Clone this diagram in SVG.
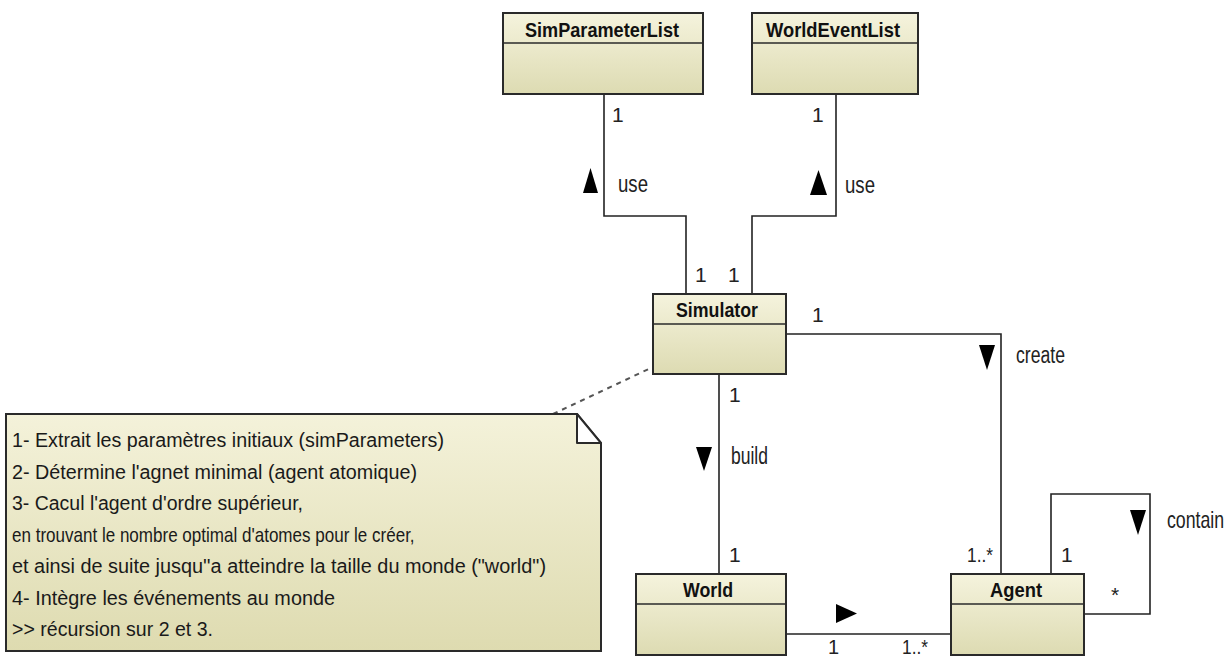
<svg xmlns="http://www.w3.org/2000/svg" width="1231" height="659" viewBox="0 0 1231 659">
  <defs>
    <linearGradient id="classFill" x1="0" y1="0" x2="0" y2="1">
      <stop offset="0" stop-color="#f5f3dd"/>
      <stop offset="1" stop-color="#dddbb2"/>
    </linearGradient>
    <linearGradient id="noteFill" x1="0" y1="0" x2="0" y2="1">
      <stop offset="0" stop-color="#f4f2da"/>
      <stop offset="1" stop-color="#dedbb0"/>
    </linearGradient>
  </defs>
  <style>
    .box { fill: url(#classFill); stroke: #2a2a2a; stroke-width: 2; }
    .div { stroke: #2a2a2a; stroke-width: 1.6; }
    .title { font-family: "Liberation Sans", Arial, sans-serif; font-weight: bold; font-size: 21px; fill: #111; text-anchor: middle; }
    .lbl { font-family: "Liberation Sans", Arial, sans-serif; font-size: 21px; fill: #222; }
    .word { font-family: "Liberation Sans", Arial, sans-serif; font-size: 23px; fill: #222; }
    .note { font-family: "Liberation Sans", Arial, sans-serif; font-size: 19.5px; fill: #1a1a1a; }
    .conn { fill: none; stroke: #222; stroke-width: 1.6; }
    .dash { fill: none; stroke: #555; stroke-width: 2; stroke-dasharray: 5 5; }
    .head { fill: #000; }
  </style>

  <!-- connectors -->
  <g id="connectors">
    <polyline class="conn" points="604,94 604,216 686,216 686,294"/>
    <polyline class="conn" points="836,94 836,216 752,216 752,294"/>
    <polyline class="conn" points="786,334 1001,334 1001,574"/>
    <line class="conn" x1="719" y1="374" x2="719" y2="574"/>
    <line class="conn" x1="786" y1="634" x2="951" y2="634"/>
    <polyline class="conn" points="1051,574 1051,494 1150,494 1150,614 1084,614"/>
    <line class="dash" x1="553" y1="414" x2="653" y2="367"/>

    <!-- direction triangles -->
    <polygon class="head" points="583,193 598,193 590.5,168"/>
    <polygon class="head" points="810,195 827,195 818.5,170"/>
    <polygon class="head" points="979,345 995,345 987,370"/>
    <polygon class="head" points="696,447 712,447 704,471"/>
    <polygon class="head" points="1130,510 1146,510 1138,535"/>
    <polygon class="head" points="836,604 836,623 857,613.5"/>

    <!-- association names -->
    <text class="word" x="618" y="192" textLength="30" lengthAdjust="spacingAndGlyphs">use</text>
    <text class="word" x="845" y="193" textLength="30" lengthAdjust="spacingAndGlyphs">use</text>
    <text class="word" x="1016" y="363" textLength="49" lengthAdjust="spacingAndGlyphs">create</text>
    <text class="word" x="731" y="464" textLength="37" lengthAdjust="spacingAndGlyphs">build</text>
    <text class="word" transform="translate(1167 528) scale(0.77 1)">contain</text>

    <!-- multiplicities -->
    <text class="lbl" x="612" y="122">1</text>
    <text class="lbl" x="812" y="122">1</text>
    <text class="lbl" x="695" y="282">1</text>
    <text class="lbl" x="728" y="282">1</text>
    <text class="lbl" x="812" y="322">1</text>
    <text class="lbl" x="729" y="402">1</text>
    <text class="lbl" x="729" y="562">1</text>
    <text class="lbl" x="967" y="562" textLength="26" lengthAdjust="spacingAndGlyphs">1..*</text>
    <text class="lbl" x="1061" y="562">1</text>
    <text class="lbl" x="1111" y="602">*</text>
    <text class="lbl" x="828" y="654" style="font-size:20px">1</text>
    <text class="lbl" x="902" y="654" style="font-size:20px" textLength="26" lengthAdjust="spacingAndGlyphs">1..*</text>
  </g>

  <!-- classes -->
  <g id="SimParameterList">
    <rect class="box" x="503" y="13" width="200" height="81"/>
    <line class="div" x1="503" y1="43" x2="703" y2="43"/>
    <text class="title" x="602" y="37" textLength="154" lengthAdjust="spacingAndGlyphs">SimParameterList</text>
  </g>
  <g id="WorldEventList">
    <rect class="box" x="752" y="13" width="166" height="81"/>
    <line class="div" x1="752" y1="43" x2="918" y2="43"/>
    <text class="title" x="833" y="37" textLength="134" lengthAdjust="spacingAndGlyphs">WorldEventList</text>
  </g>
  <g id="Simulator">
    <rect class="box" x="653" y="294" width="133" height="80"/>
    <line class="div" x1="653" y1="324" x2="786" y2="324"/>
    <text class="title" x="717" y="317" textLength="82" lengthAdjust="spacingAndGlyphs">Simulator</text>
  </g>
  <g id="World">
    <rect class="box" x="636" y="574" width="150" height="81"/>
    <line class="div" x1="636" y1="604" x2="786" y2="604"/>
    <text class="title" x="708" y="597" textLength="50" lengthAdjust="spacingAndGlyphs">World</text>
  </g>
  <g id="Agent">
    <rect class="box" x="951" y="574" width="133" height="81"/>
    <line class="div" x1="951" y1="604" x2="1084" y2="604"/>
    <text class="title" x="1016" y="597" textLength="52" lengthAdjust="spacingAndGlyphs">Agent</text>
  </g>

  <!-- note attached to Simulator -->
  <g id="note">
    <polygon points="6,414 577,414 601,443 601,651 6,651" fill="url(#noteFill)" stroke="#2a2a2a" stroke-width="2"/>
    <polygon points="577,414 601,443 577,443" fill="#ffffff" stroke="#2a2a2a" stroke-width="2" stroke-linejoin="round"/>
    <text class="note" x="12" y="447" textLength="432" lengthAdjust="spacingAndGlyphs">1- Extrait les paramètres initiaux  (simParameters)</text>
    <text class="note" x="12" y="478.5" textLength="405" lengthAdjust="spacingAndGlyphs">2- Détermine l'agnet minimal (agent atomique)</text>
    <text class="note" x="12" y="510" textLength="291" lengthAdjust="spacingAndGlyphs">3- Cacul l'agent d'ordre supérieur,</text>
    <text class="note" style="font-size:20px" transform="translate(12 541.5) scale(0.852 1)">en trouvant le nombre optimal d'atomes pour le créer,</text>
    <text class="note" x="12" y="573" textLength="534" lengthAdjust="spacingAndGlyphs">et ainsi de suite jusqu''a atteindre la taille du monde ("world")</text>
    <text class="note" x="12" y="604.5" textLength="323" lengthAdjust="spacingAndGlyphs">4- Intègre les événements au monde</text>
    <text class="note" x="12" y="636" textLength="201" lengthAdjust="spacingAndGlyphs">&gt;&gt; récursion sur 2 et 3.</text>
  </g>
</svg>
